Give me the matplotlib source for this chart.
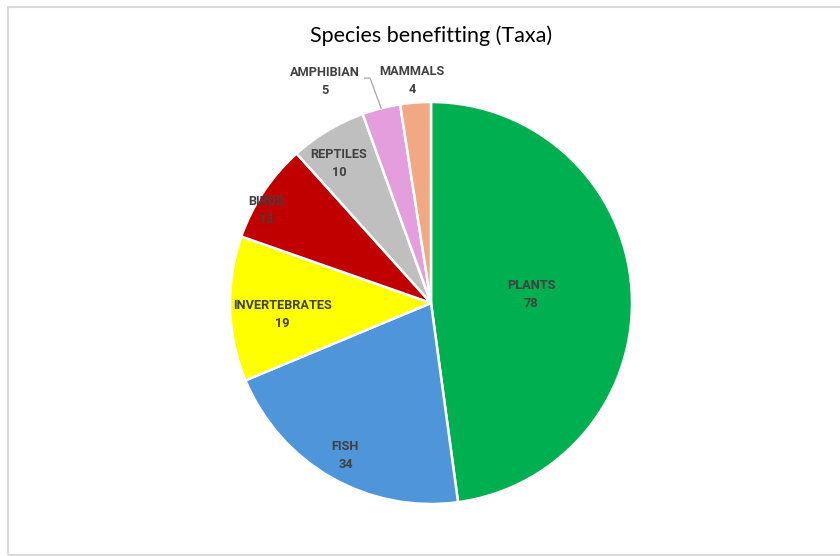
import matplotlib.pyplot as plt
from matplotlib.patches import Rectangle
import numpy as np

# data
taxa = ["PLANTS", "FISH", "INVERTEBRATES", "BIRDS", "REPTILES", "AMPHIBIAN", "MAMMALS"]
counts = [78, 34, 19, 13, 10, 5, 4]
colors = ["#00B050", "#4F95D9", "#FFFF00", "#C00000", "#BFBFBF", "#E59EDD", "#F1A983"]

# label placement (angle in degrees, distance as fraction of radius)
label_angle = [5.1, -119.3, 184.6, 150.6, 123.5, 115.6, 94.9]
label_dist = [0.50, 0.87, 0.74, 0.94, 0.83, 1.22, 1.11]

W, H = 840, 556
fig = plt.figure(figsize=(W / 100, H / 100), dpi=100)

# chart border
fig.patches.append(Rectangle((8 / W, 1 / H), 1.0, 548 / H, transform=fig.transFigure,
                             fill=False, edgecolor="#D9D9D9", linewidth=1.5))

# pie axes: centre (431, 303) px, radius 201 px
R = 201
lim = 1.4
side = 2 * lim * R
cx, cy = 431, H - 303
ax = fig.add_axes([(cx - side / 2) / W, (cy - side / 2) / H, side / W, side / H])

wedges, _ = ax.pie(counts, colors=colors, startangle=90, counterclock=False, radius=1.0,
                   wedgeprops=dict(edgecolor="white", linewidth=1.8))
ax.set_xlim(-lim, lim)
ax.set_ylim(-lim, lim)
ax.set_aspect("equal")
ax.axis("off")

for name, n, a, d in zip(taxa, counts, label_angle, label_dist):
    t = np.deg2rad(a)
    ax.text(d * np.cos(t), d * np.sin(t), f"{name}\n{n}", ha="center", va="center",
            fontsize=9.2, fontweight="bold", color="#404040", family="Roboto",
            linespacing=1.5)

# leader line for the small AMPHIBIAN slice
total = sum(counts)
mid = 90 - (sum(counts[:5]) + counts[5] / 2) / total * 360
m = np.deg2rad(mid)
ax.plot([np.cos(m), -0.303, -0.33], [np.sin(m), 1.119, 1.119], color="#A6A6A6", lw=0.9)

fig.text(431 / W, 1 - 36 / H, "Species benefitting (Taxa)", ha="center", va="center",
         fontsize=15.5, family="Lato", color="black")

fig.savefig("out.png", dpi=100)
